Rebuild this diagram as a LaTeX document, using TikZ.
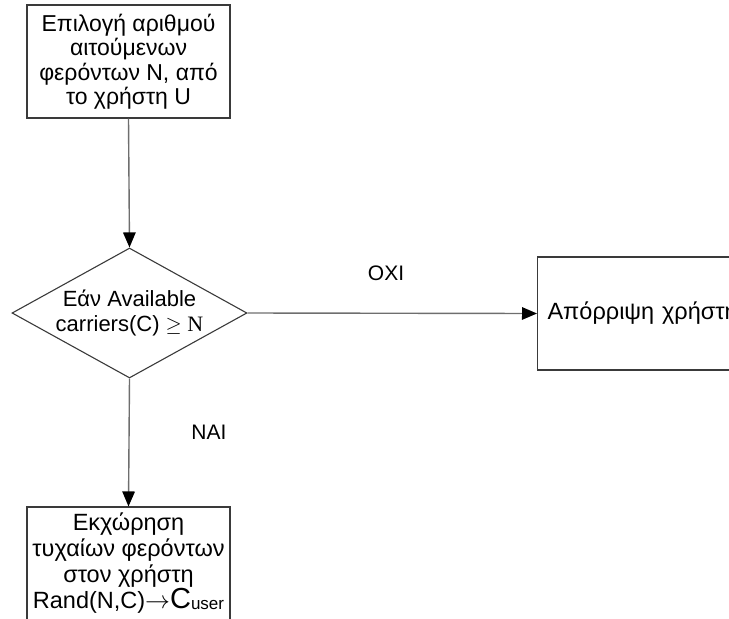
\documentclass[tikz,border=0pt]{standalone}
\usepackage{fontspec}
\setmainfont{Liberation Sans}
\newfontfamily\serifnum{Liberation Serif}
\usetikzlibrary{shapes.geometric,arrows.meta}
\definecolor{edge}{HTML}{3A3A3A}
\definecolor{link}{HTML}{6E6E6E}
\tikzset{
  procbox/.style={draw=edge, line width=1.1pt, rectangle, inner sep=0pt,
    minimum width=203pt, minimum height=113pt, align=center,
    font=\fontsize{23}{24.5}\selectfont},
  decision/.style={draw=edge, line width=1.1pt, diamond, inner sep=0pt, aspect=1.8,
    minimum width=235pt, minimum height=130pt, align=center,
    font=\fontsize{22}{25}\selectfont},
  flow/.style={draw=link, line width=1.4pt,
    -{Triangle[length=15pt,width=12.5pt,color=black]}},
  tag/.style={font=\fontsize{21}{21}\selectfont, inner sep=0pt}
}
\begin{document}
\begin{tikzpicture}[x=1pt,y=-1pt]
  \useasboundingbox (0,0) rectangle (729,619);
  \clip (0,0) rectangle (729,619);

  % process boxes and the decision
  \node[procbox] (choose) at (128.5,61.5)
    {Επιλογή αριθμού\\αιτούμενων\\φερόντων N, από\\το χρήστη U};
  \node[decision] (test) at (129.5,313)
    {Εάν Available\\carriers(C) {\serifnum$\geq$ N}};
  \node[procbox, minimum width=0pt, text width=200pt, align=left, inner xsep=10pt,
        font=\fontsize{23.5}{24.5}\selectfont, anchor=west] (reject) at (537,313.5)
    {Απόρριψη χρήστη};
  \node[procbox, font=\fontsize{23.5}{26}\selectfont] (assign) at (128.5,563.5)
    {Εκχώρηση\\τυχαίων φερόντων\\στον χρήστη\\Rand(N,C)$\rightarrow${\fontsize{29}{29}\selectfont C}{\fontsize{17}{17}\selectfont\raisebox{-1pt}{user}}};

  % connectors
  \draw[flow] (choose.south) -- (test.north);
  \draw[flow] (test.east) -- (reject.west);
  \draw[flow] (test.south) -- (assign.north);

  % branch labels
  \node[tag] (no) at (386,273) {ΟΧΙ};
  \node[tag] (yes) at (209,432) {ΝΑΙ};
\end{tikzpicture}
\end{document}
